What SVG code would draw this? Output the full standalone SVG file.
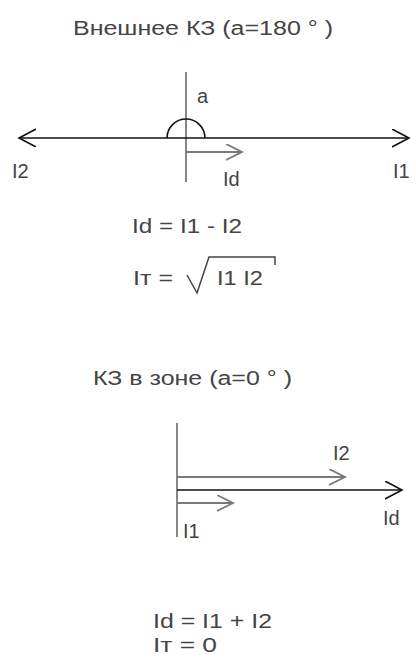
<svg xmlns="http://www.w3.org/2000/svg" width="416" height="662" viewBox="0 0 416 662">
<style>
  text { font-family: "Liberation Sans", Arial, sans-serif; fill: #444; }
  .t { font-size: 20px; }
  .l { font-size: 20px; }
  .blk { stroke: #111; stroke-width: 1.6; fill: none; }
  .gry { stroke: #7a7a7a; stroke-width: 1.8; fill: none; }
</style>
<defs>
  <marker id="ab" markerWidth="20" markerHeight="20" refX="17" refY="9" orient="auto" markerUnits="userSpaceOnUse">
    <path d="M0,0 L17,9 L0,18" fill="none" stroke="#111" stroke-width="1.6"/>
  </marker>
  <marker id="ag" markerWidth="20" markerHeight="20" refX="16" refY="8" orient="auto" markerUnits="userSpaceOnUse">
    <path d="M0,0 L16,8 L0,16" fill="none" stroke="#7a7a7a" stroke-width="1.8"/>
  </marker>
</defs>

<g id="title1"><text class="t" x="73" y="35" textLength="260" lengthAdjust="spacingAndGlyphs">Внешнее КЗ (a=180 ° )</text></g>

<g id="connectors">
  <line class="gry" x1="186" y1="72" x2="186" y2="182"/>
  <path class="blk" d="M167,138 A19,19 0 0 1 205,138"/>
  <line class="blk" x1="186" y1="138" x2="409" y2="138" marker-end="url(#ab)"/>
  <line class="blk" x1="186" y1="138" x2="19" y2="138" marker-end="url(#ab)"/>
  <line class="gry" x1="186" y1="152" x2="242" y2="152" marker-end="url(#ag)"/>

  <line class="gry" x1="177" y1="423" x2="177" y2="537"/>
  <line class="gry" x1="177" y1="477" x2="345" y2="477" marker-end="url(#ag)"/>
  <line class="blk" x1="177" y1="490" x2="402" y2="490" marker-end="url(#ab)"/>
  <line class="gry" x1="177" y1="503" x2="233" y2="503" marker-end="url(#ag)"/>
</g>

<g id="label-a"><text class="l" x="197" y="103">a</text></g>
<g id="label-I2-top"><text class="l" x="12" y="178">I2</text></g>
<g id="label-I1-top"><text class="l" x="393" y="178">I1</text></g>
<g id="label-Id-top"><text class="l" x="223" y="186">Id</text></g>

<g id="formula1">
  <text class="l" x="132" y="233" textLength="110" lengthAdjust="spacingAndGlyphs">Id = I1 - I2</text>
  <text class="l" x="133" y="285" textLength="40" lengthAdjust="spacingAndGlyphs">Iт =</text>
  <path d="M187,275 L197,293 L209,257 L275,257 L275,265" fill="none" stroke="#444" stroke-width="1.5"/>
  <text class="l" x="217" y="285" textLength="46" lengthAdjust="spacingAndGlyphs">I1 I2</text>
</g>

<g id="title2"><text class="t" x="93" y="385" textLength="199" lengthAdjust="spacingAndGlyphs">КЗ в зоне (a=0 ° )</text></g>

<g id="label-I2-bot"><text class="l" x="333" y="460">I2</text></g>
<g id="label-Id-bot"><text class="l" x="383" y="525">Id</text></g>
<g id="label-I1-bot"><text class="l" x="183" y="538">I1</text></g>

<g id="formula2">
  <text class="l" x="153" y="628" textLength="119" lengthAdjust="spacingAndGlyphs">Id = I1 + I2</text>
  <text class="l" x="153" y="652" textLength="64" lengthAdjust="spacingAndGlyphs">Iт = 0</text>
</g>
</svg>
